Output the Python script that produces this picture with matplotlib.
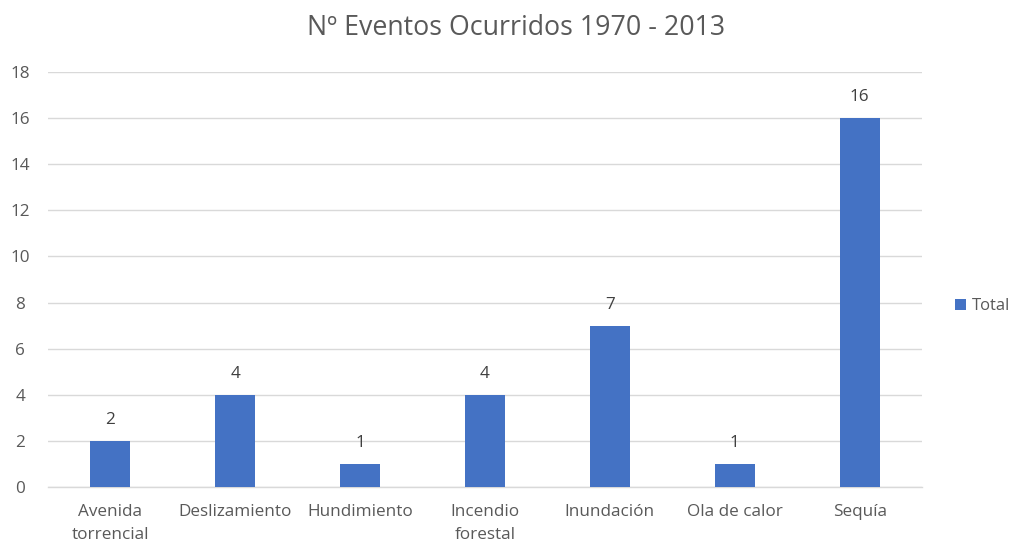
import matplotlib
matplotlib.use("Agg")
import matplotlib.pyplot as plt

categories = ["Avenida\ntorrencial", "Deslizamiento", "Hundimiento", "Incendio\nforestal",
              "Inundación", "Ola de calor", "Sequía"]
values = [2, 4, 1, 4, 7, 1, 16]
yticks = [0, 2, 4, 6, 8, 10, 12, 14, 16, 18]
title = "Nº Eventos Ocurridos 1970 - 2013"
series_name = "Total"

plt.rcParams['font.family'] = ['Open Sans', 'DejaVu Sans']
fig = plt.figure(figsize=(10.13, 5.43), dpi=100)
ax = fig.add_axes([48/1013, 56/543, 874/1013, 415/543])

bar_color = "#4472C4"
text_gray = "#595959"
x = list(range(len(categories)))
bars = ax.bar(x, values, width=0.32, color=bar_color, label=series_name, zorder=3)
for xi, v in zip(x, values):
    ax.annotate(str(v), (xi, v), xytext=(0, 15), textcoords="offset points",
                ha="center", va="center", fontsize=12.3, color="#404040")

ax.set_xlim(-0.5, len(categories) - 0.5)
ax.set_ylim(0, 18)
ax.set_yticks(yticks)
ax.set_xticks(x)
ax.set_xticklabels(categories, fontsize=12.3, color=text_gray, linespacing=1.6, va="top")
ax.tick_params(axis='y', labelsize=12.3, labelcolor=text_gray, length=0, pad=20)
ax.tick_params(axis='x', length=0, pad=12)
for lbl in ax.get_yticklabels():
    lbl.set_horizontalalignment('center')
ax.grid(axis='y', color="#D9D9D9", linewidth=1, zorder=0)
for s in ["top", "right", "left"]:
    ax.spines[s].set_visible(False)
ax.spines["bottom"].set_color("#D9D9D9")
ax.spines["bottom"].set_linewidth(1)

fig.text(516/1013, 1 - 28/543, title, ha="center", va="center", fontsize=19.3, color=text_gray)

leg = fig.legend(handles=[bars], labels=[series_name], loc="center left",
                 bbox_to_anchor=(955/1013, 1 - 306/543), frameon=False, borderpad=0,
                 borderaxespad=0, fontsize=12, handlelength=0.65, handleheight=0.65,
                 handletextpad=0.35)
for t in leg.get_texts():
    t.set_color(text_gray)

fig.savefig("out.png", dpi=100)
